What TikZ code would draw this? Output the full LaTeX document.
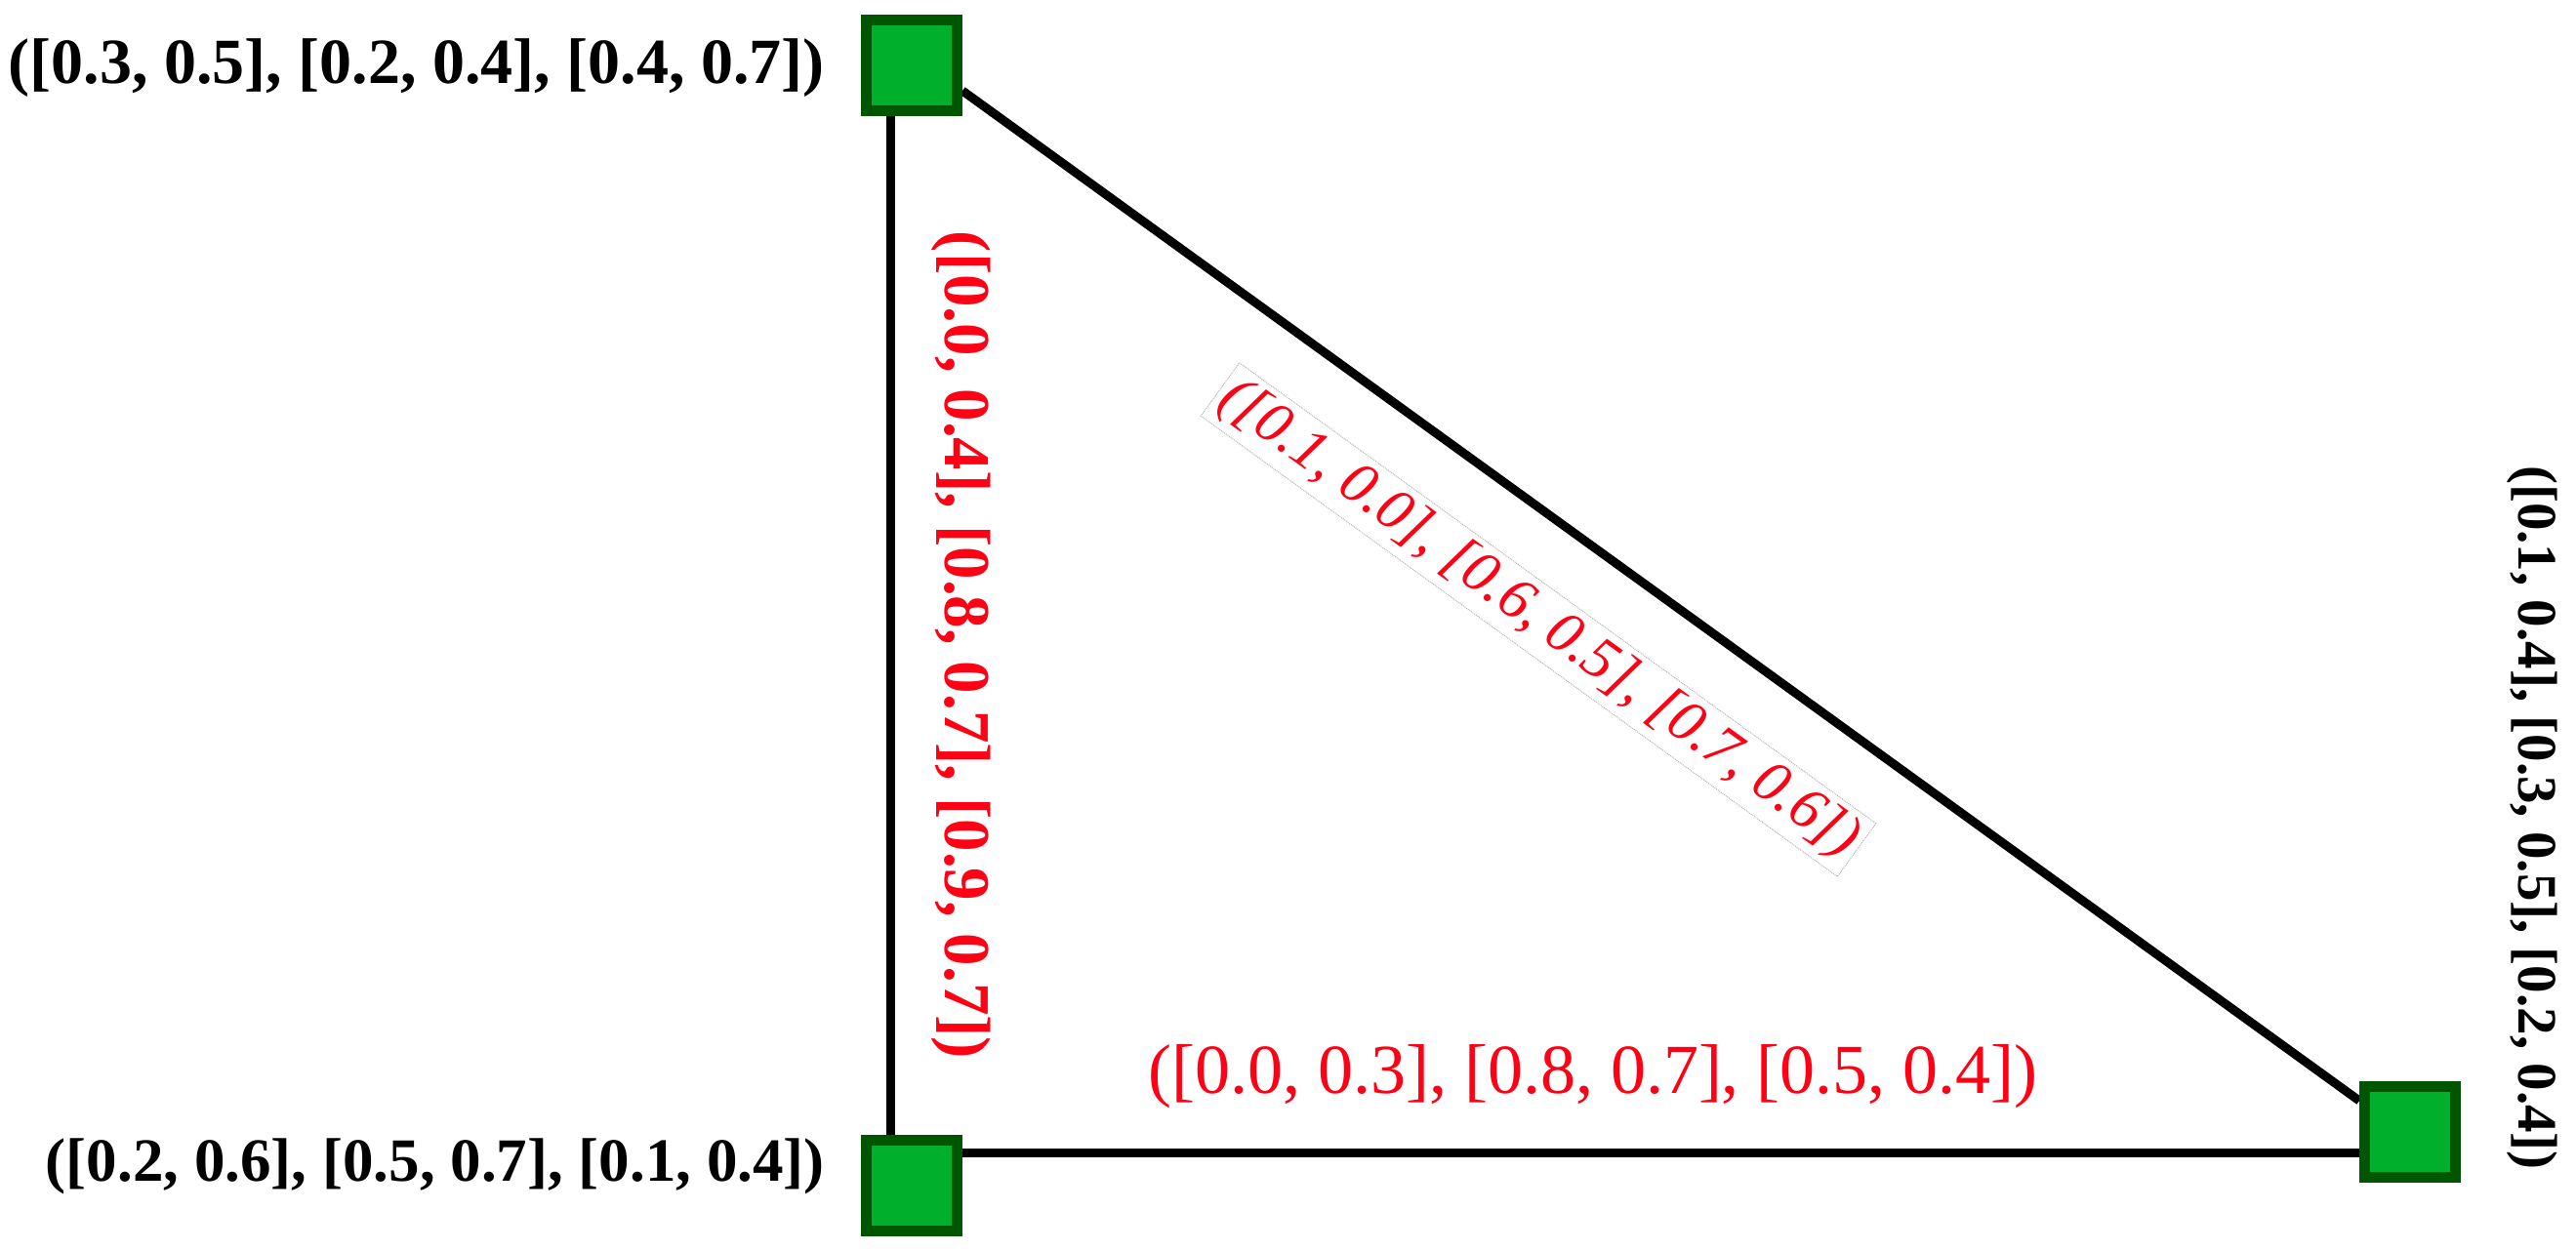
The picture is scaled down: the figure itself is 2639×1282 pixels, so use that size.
\documentclass[tikz,border=0pt]{standalone}
\usepackage{fontspec}
\setmainfont{Liberation Serif}
\usetikzlibrary{backgrounds}
\definecolor{sqfill}{RGB}{0,176,44}
\definecolor{sqedge}{RGB}{0,85,0}
\definecolor{lblred}{RGB}{255,0,20}
\tikzset{
  sq/.style={rectangle, draw=sqedge, fill=sqfill, line width=11pt, minimum size=93pt, inner sep=0pt},
  edge/.style={line width=9pt, black},
  vlabel/.style={black, font=\bfseries\fontsize{#1}{#1}\selectfont, inner sep=0pt},
  elabel/.style={lblred, font=\fontsize{#1}{#1}\selectfont, inner sep=0pt}
}
\begin{document}
\begin{tikzpicture}[x=1pt,y=-1pt]
\useasboundingbox (0,0) rectangle (2639,1282);
\node[sq] (a) at (934,67) {};
\node[sq] (b) at (934,1215) {};
\node[sq] (c) at (2469,1160) {};
\begin{pgfonlayer}{background}
\draw[edge] ([xshift=-22pt]a.south) -- ([xshift=-22pt]b.north);
\draw[edge] ([yshift=34pt]b.east) -- ([yshift=-21pt]c.west);
\draw[edge] ([yshift=-26pt]a.east) -- ([yshift=32pt]c.west);
\end{pgfonlayer}
\node[vlabel=66, anchor=east] (la) at (845,70) {([0.3, 0.5], [0.2, 0.4], [0.4, 0.7])};
\node[vlabel=63, anchor=east] (lb) at (845,1195) {([0.2, 0.6], [0.5, 0.7], [0.1, 0.4])};
\node[vlabel=57, rotate=-90] (lc) at (2594,838) {([0.1, 0.4], [0.3, 0.5], [0.2, 0.4])};
\node[elabel=67, rotate=-90] (lab) at (985,661) {\bfseries ([0.0, 0.4], [0.8, 0.7], [0.9, 0.7])};
\node[elabel=72] (lbc) at (1632,1103) {([0.0, 0.3], [0.8, 0.7], [0.5, 0.4])};
\node[elabel=61, rotate=-35.9, draw=gray!60, densely dotted, line width=1pt, inner sep=6pt, text=lblred] (lac) at (1576,635) {\itshape ([0.1, 0.0], [0.6, 0.5], [0.7, 0.6])};
\end{tikzpicture}
\end{document}
